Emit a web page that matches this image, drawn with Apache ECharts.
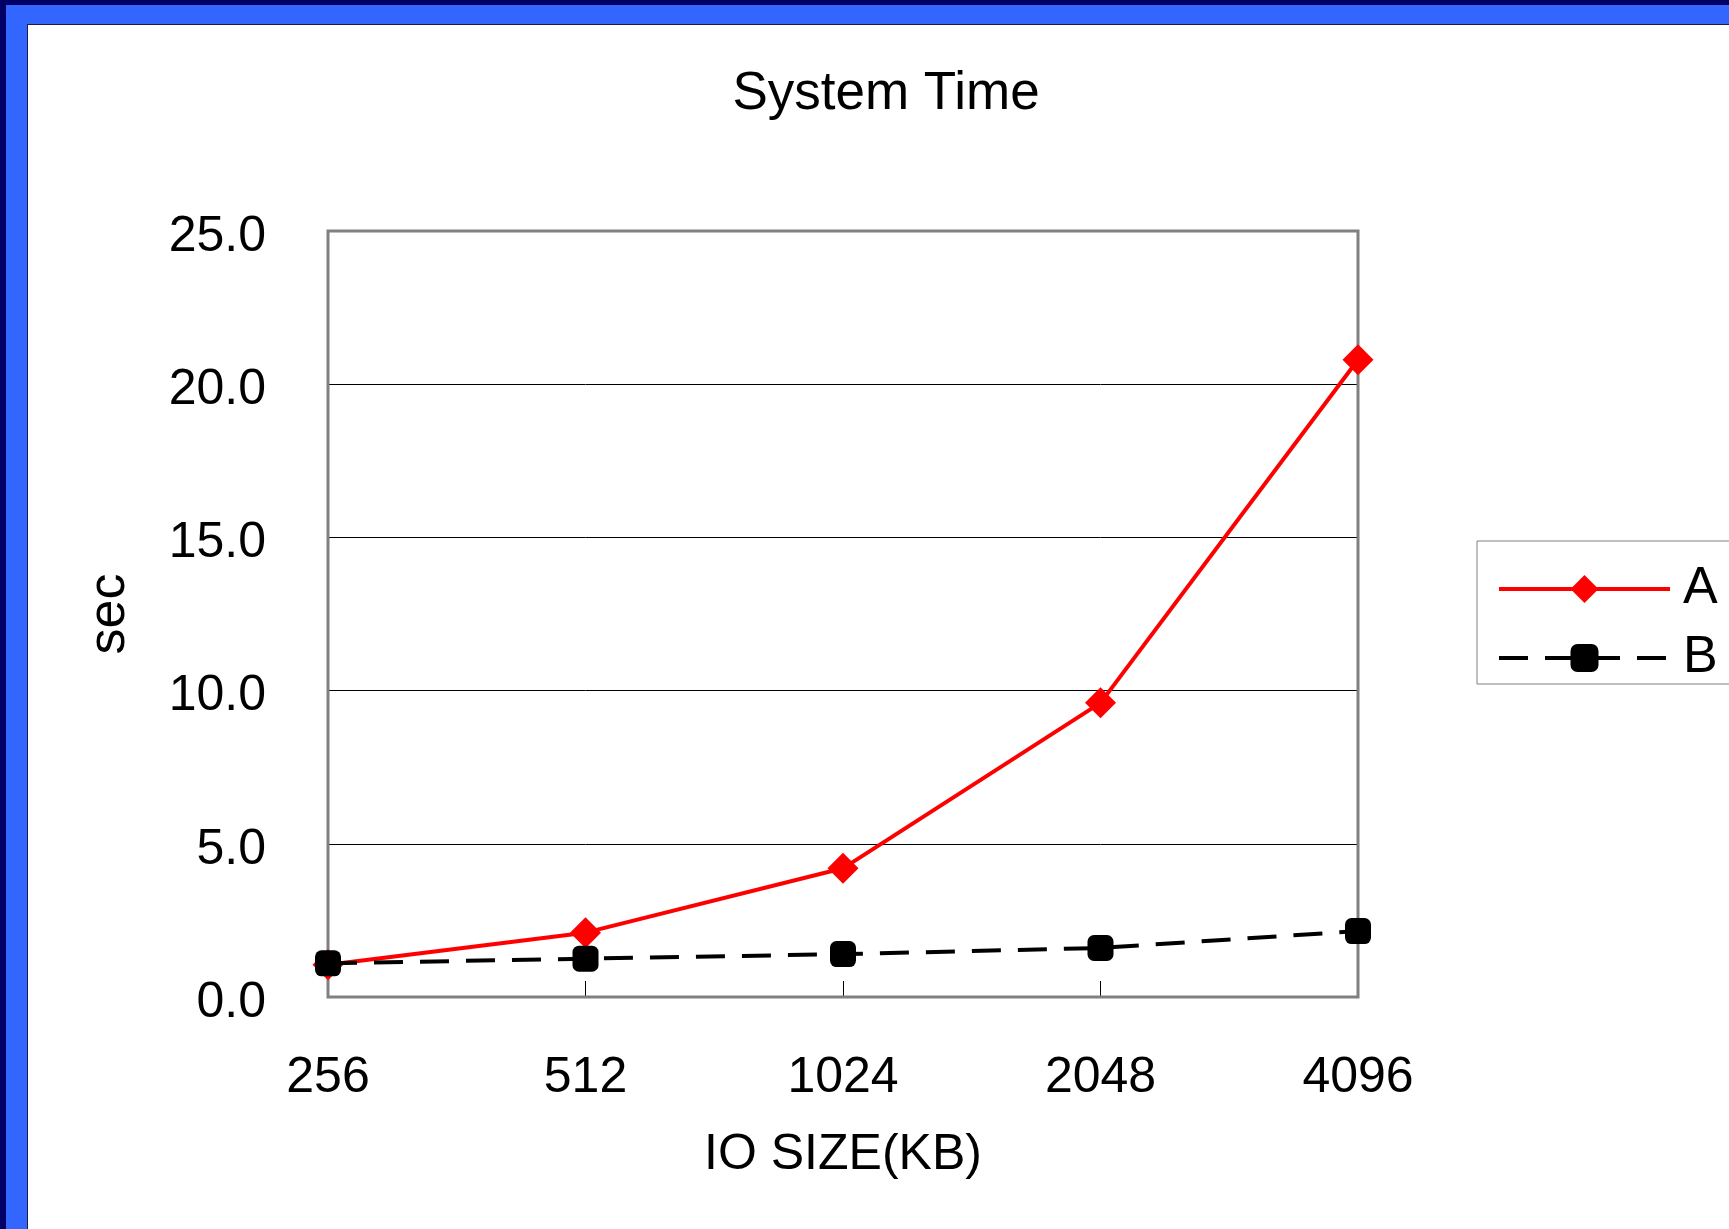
<!DOCTYPE html>
<html>
<head>
<meta charset="utf-8">
<title>System Time</title>
<script src="https://cdn.jsdelivr.net/npm/echarts@6/dist/echarts.min.js"></script>
<style>
  html, body { margin: 0; padding: 0; width: 1729px; height: 1229px; overflow: hidden; background: #000066; }
  #frame { position: absolute; left: 6px; top: 5px; right: 0; bottom: 0; background: #3366ff; }
  #sheet { position: absolute; left: 27px; top: 24px; right: 0; bottom: 0; background: #ffffff;
           border-left: 1px solid #1c1c4a; border-top: 1px solid #1c1c4a; }
  #chart { position: absolute; left: 0; top: 0; width: 1729px; height: 1229px; }
</style>
</head>
<body>
<div id="frame"></div>
<div id="sheet"></div>
<div id="chart"></div>
<script>
// IO sizes (KB) on the category axis
const categories = ['256', '512', '1024', '2048', '4096'];
// system time in seconds for each configuration
const seriesA = [1.05, 2.1, 4.2, 9.6, 20.8];
const seriesB = [1.1, 1.25, 1.4, 1.6, 2.15];
// value axis range and step
const yMin = 0;
const yMax = 25;
const yStep = 5;

const FONT = '"Liberation Sans", Arial, Helvetica, sans-serif';

const chart = echarts.init(document.getElementById('chart'), null, { renderer: 'canvas' });

chart.setOption({
  backgroundColor: 'transparent',
  animation: false,
  title: {
    text: 'System Time',
    left: 881,
    textAlign: 'center',
    top: 63,
    textStyle: { fontFamily: FONT, fontSize: 53, fontWeight: 'normal', color: '#000' }
  },
  legend: {
    orient: 'vertical',
    left: 1477,
    top: 541,
    padding: [22, 60, 0, 20],
    itemGap: 17,
    itemWidth: 171,
    itemHeight: 35,
    borderColor: '#808080',
    borderWidth: 1,
    backgroundColor: '#ffffff',
    lineStyle: { width: 4 },
    textStyle: { fontFamily: FONT, fontSize: 52, color: '#000', lineHeight: 40, padding: [0, 0, 0, 8] },
    data: ['A', 'B']
  },
  grid: {
    left: 328,
    top: 231,
    width: 1030,
    height: 766,
    show: true,
    borderColor: '#808080',
    borderWidth: 3,
    backgroundColor: 'transparent',
    z: 3
  },
  xAxis: {
    type: 'category',
    data: categories,
    boundaryGap: false,
    name: 'IO SIZE(KB)',
    nameLocation: 'middle',
    nameGap: 133,
    nameTextStyle: { fontFamily: FONT, fontSize: 50, color: '#000' },
    axisLine: { show: false },
    axisTick: { show: true, inside: true, length: 16, lineStyle: { color: '#000', width: 1 } },
    axisLabel: { margin: 56, fontFamily: FONT, fontSize: 50, color: '#000' },
    splitLine: { show: false }
  },
  yAxis: {
    type: 'value',
    min: yMin,
    max: yMax,
    interval: yStep,
    name: 'sec',
    nameLocation: 'middle',
    nameGap: 192,
    nameRotate: 90,
    nameTextStyle: { fontFamily: FONT, fontSize: 52, color: '#000' },
    axisLine: { show: false },
    axisTick: { show: true, inside: true, length: 16, lineStyle: { color: '#000', width: 1 } },
    axisLabel: {
      margin: 62,
      color: '#000',
      formatter: v => '{v|' + v.toFixed(1) + '}',
      rich: {
        v: { fontFamily: FONT, fontSize: 50, color: '#000', padding: [12, 0, 0, 0] }
      }
    },
    splitLine: { show: true, lineStyle: { color: '#000', width: 1 } }
  },
  series: [
    {
      name: 'A',
      type: 'line',
      data: seriesA,
      z: 5,
      symbol: 'diamond',
      symbolSize: 31,
      lineStyle: { color: '#ff0000', width: 4 },
      itemStyle: { color: '#ff0000' }
    },
    {
      name: 'B',
      type: 'line',
      data: seriesB,
      z: 6,
      symbol: 'roundRect',
      symbolSize: 26,
      lineStyle: { color: '#000000', width: 4, type: [29, 17] },
      itemStyle: { color: '#000000' }
    }
  ]
});
</script>
</body>
</html>
